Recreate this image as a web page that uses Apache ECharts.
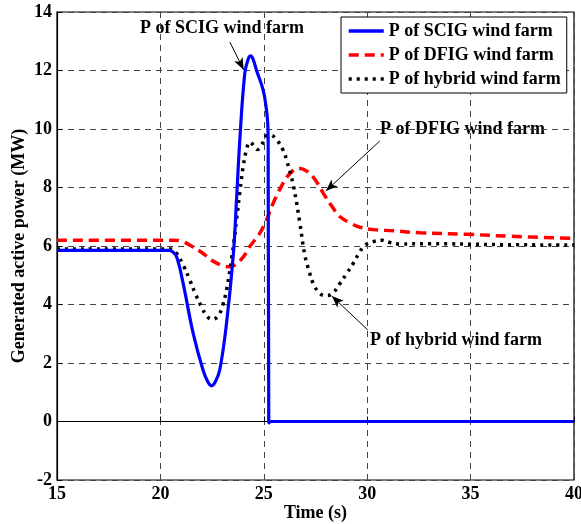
<!DOCTYPE html>
<html>
<head>
<meta charset="utf-8">
<script src="https://cdn.jsdelivr.net/npm/echarts@6/dist/echarts.min.js"></script>
<style>html,body{margin:0;padding:0;background:#fff;}#c{width:581px;height:524px;}</style>
</head>
<body>
<div id="c"></div>
<script>
var xTicks = [15, 20, 25, 30, 35, 40];
var yTicks = [-2, 0, 2, 4, 6, 8, 10, 12, 14];

var seriesNames = ['P of SCIG wind farm', 'P of DFIG wind farm', 'P of hybrid wind farm'];

var scigT = [15, 20.4, 20.6, 20.8, 21.1, 21.58, 22.06, 22.3, 22.47, 22.65, 22.87, 23.2, 23.53, 23.68, 23.84, 24.08, 24.25, 24.37, 24.5, 24.65, 24.97, 25.12, 25.19, 25.21, 25.24, 25.35, 40];
var scigP = [5.85, 5.85, 5.8, 5.6, 4.72, 3.03, 1.76, 1.35, 1.22, 1.35, 1.76, 3.37, 5.75, 7.57, 9.62, 11.9, 12.4, 12.5, 12.35, 12.0, 11.33, 10.7, 10.2, 9.6, -0.05, 0, 0];

var dfigT = [15, 20.5, 20.94, 21.5, 22.0, 22.23, 22.5, 23.0, 23.3, 23.6, 24.0, 24.32, 24.8, 25.13, 25.45, 25.93, 26.3, 26.7, 27.1, 27.5, 27.88, 28.3, 28.69, 29.2, 29.65, 30.3, 31.27, 32.55, 34.8, 37, 40];
var dfigP = [6.2, 6.2, 6.18, 6.0, 5.78, 5.65, 5.5, 5.33, 5.29, 5.35, 5.62, 5.98, 6.43, 6.89, 7.46, 8.14, 8.5, 8.66, 8.55, 8.25, 7.8, 7.35, 7.0, 6.78, 6.64, 6.56, 6.52, 6.45, 6.4, 6.33, 6.26];

var hybT = [15, 20.5, 20.78, 21.1, 21.42, 21.7, 21.99, 22.25, 22.52, 22.8, 23.0, 23.2, 23.45, 23.68, 23.85, 24.0, 24.15, 24.32, 24.5, 24.7, 24.9, 25.1, 25.3, 25.63, 25.93, 26.1, 26.42, 26.74, 26.98, 27.22, 27.39, 27.7, 28.03, 28.35, 28.68, 29.0, 29.33, 29.6, 29.89, 30.3, 30.7, 31.1, 31.58, 33, 36, 40];
var hybP = [5.9, 5.9, 5.75, 5.35, 4.84, 4.35, 3.92, 3.6, 3.49, 3.62, 3.95, 4.5, 5.6, 6.89, 7.9, 8.71, 9.25, 9.55, 9.45, 9.3, 9.45, 9.75, 9.8, 9.62, 9.28, 8.94, 8.1, 6.8, 5.7, 5.07, 4.72, 4.38, 4.3, 4.4, 4.72, 5.05, 5.41, 5.75, 6.03, 6.15, 6.2, 6.12, 6.07, 6.08, 6.05, 6.03];

// annotation arrows in data coordinates: [fromT, fromP, toT, toP]
var arrowScig = [23.36, 12.97, 24.03, 12.02];
var arrowDfig = [30.61, 9.59, 28.0, 7.88];
var arrowHyb = [30.03, 3.13, 28.29, 4.29];

function pairs(t, v) { return t.map(function (x, i) { return [x, v[i]]; }); }

var FONT = '"Liberation Serif", "Times New Roman", serif';
var chart = echarts.init(document.getElementById('c'));

function arrowLine(a) {
  return {
    silent: true,
    symbol: ['none', 'arrow'],
    symbolSize: [7, 12],
    label: {show: false},
    lineStyle: {color: '#000', width: 1, type: 'solid'},
    data: [[{coord: [a[0], a[1]]}, {coord: [a[2], a[3]]}]]
  };
}

var option = {
  animation: false,
  backgroundColor: '#fff',
  grid: {left: 57, right: 7, top: 12, bottom: 44, show: true, borderColor: '#000', borderWidth: 1.2, outerBoundsMode: 'none', containLabel: false},
  legend: {
    data: seriesNames,
    orient: 'vertical',
    left: 341, top: 17,
    backgroundColor: '#fff',
    borderColor: '#000', borderWidth: 1,
    padding: [4, 6, 4, 6],
    itemGap: 4,
    itemWidth: 35, itemHeight: 10,
    itemStyle: {opacity: 0, borderWidth: 0},
    lineStyle: {width: 3.5},
    textStyle: {fontFamily: FONT, fontWeight: 'bold', fontSize: 18, color: '#000', lineHeight: 20}
  },
  xAxis: {
    type: 'value', min: 15, max: 40, interval: 5,
    name: 'Time (s)', nameLocation: 'middle', nameGap: 24, nameMoveOverlap: false,
    nameTextStyle: {fontFamily: FONT, fontWeight: 'bold', fontSize: 18, color: '#000'},
    axisLine: {show: true, lineStyle: {color: '#000', width: 1.2}},
    axisTick: {show: true, inside: true, length: 5, lineStyle: {color: '#000'}},
    axisLabel: {fontFamily: FONT, fontWeight: 'bold', fontSize: 18, color: '#000', margin: 5},
    splitLine: {show: true, lineStyle: {color: '#444', width: 1, type: [6, 5]}}
  },
  yAxis: {
    type: 'value', min: -2, max: 14, interval: 2,
    name: 'Generated active power (MW)', nameLocation: 'middle', nameGap: 29, nameMoveOverlap: false,
    nameTextStyle: {fontFamily: FONT, fontWeight: 'bold', fontSize: 18, color: '#000'},
    axisLine: {show: true, lineStyle: {color: '#000', width: 1.2}},
    axisTick: {show: true, inside: true, length: 5, lineStyle: {color: '#000'}},
    axisLabel: {fontFamily: FONT, fontWeight: 'bold', fontSize: 18, color: '#000', margin: 5},
    splitLine: {show: true, lineStyle: {color: '#444', width: 1, type: [6, 5]}}
  },
  series: [
    {
      name: seriesNames[0], type: 'line', data: pairs(scigT, scigP),
      symbol: 'none', smooth: 0.4, z: 4,
      itemStyle: {color: '#0000ff'},
      lineStyle: {color: '#0000ff', width: 3.2},
      markLine: arrowLine(arrowScig)
    },
    {
      name: seriesNames[1], type: 'line', data: pairs(dfigT, dfigP),
      symbol: 'none', smooth: 0.4, z: 3,
      itemStyle: {color: '#ff0000'},
      lineStyle: {color: '#ff0000', width: 3.5, type: [10, 6]},
      markLine: arrowLine(arrowDfig)
    },
    {
      name: seriesNames[2], type: 'line', data: pairs(hybT, hybP),
      symbol: 'none', smooth: 0.4, z: 3,
      itemStyle: {color: '#000'},
      lineStyle: {color: '#000', width: 3.5, type: [3, 5]},
      markLine: arrowLine(arrowHyb)
    }
  ],
  graphic: [
    {type: 'text', left: 140, top: 19, silent: true,
     style: {text: 'P of SCIG wind farm', font: 'bold 18px ' + FONT, fill: '#000'}},
    {type: 'text', left: 380, top: 120, silent: true,
     style: {text: 'P of DFIG wind farm', font: 'bold 18px ' + FONT, fill: '#000'}},
    {type: 'text', left: 370, top: 331, silent: true,
     style: {text: 'P of hybrid wind farm', font: 'bold 18px ' + FONT, fill: '#000'}}
  ]
};
chart.setOption(option);
</script>
</body>
</html>
